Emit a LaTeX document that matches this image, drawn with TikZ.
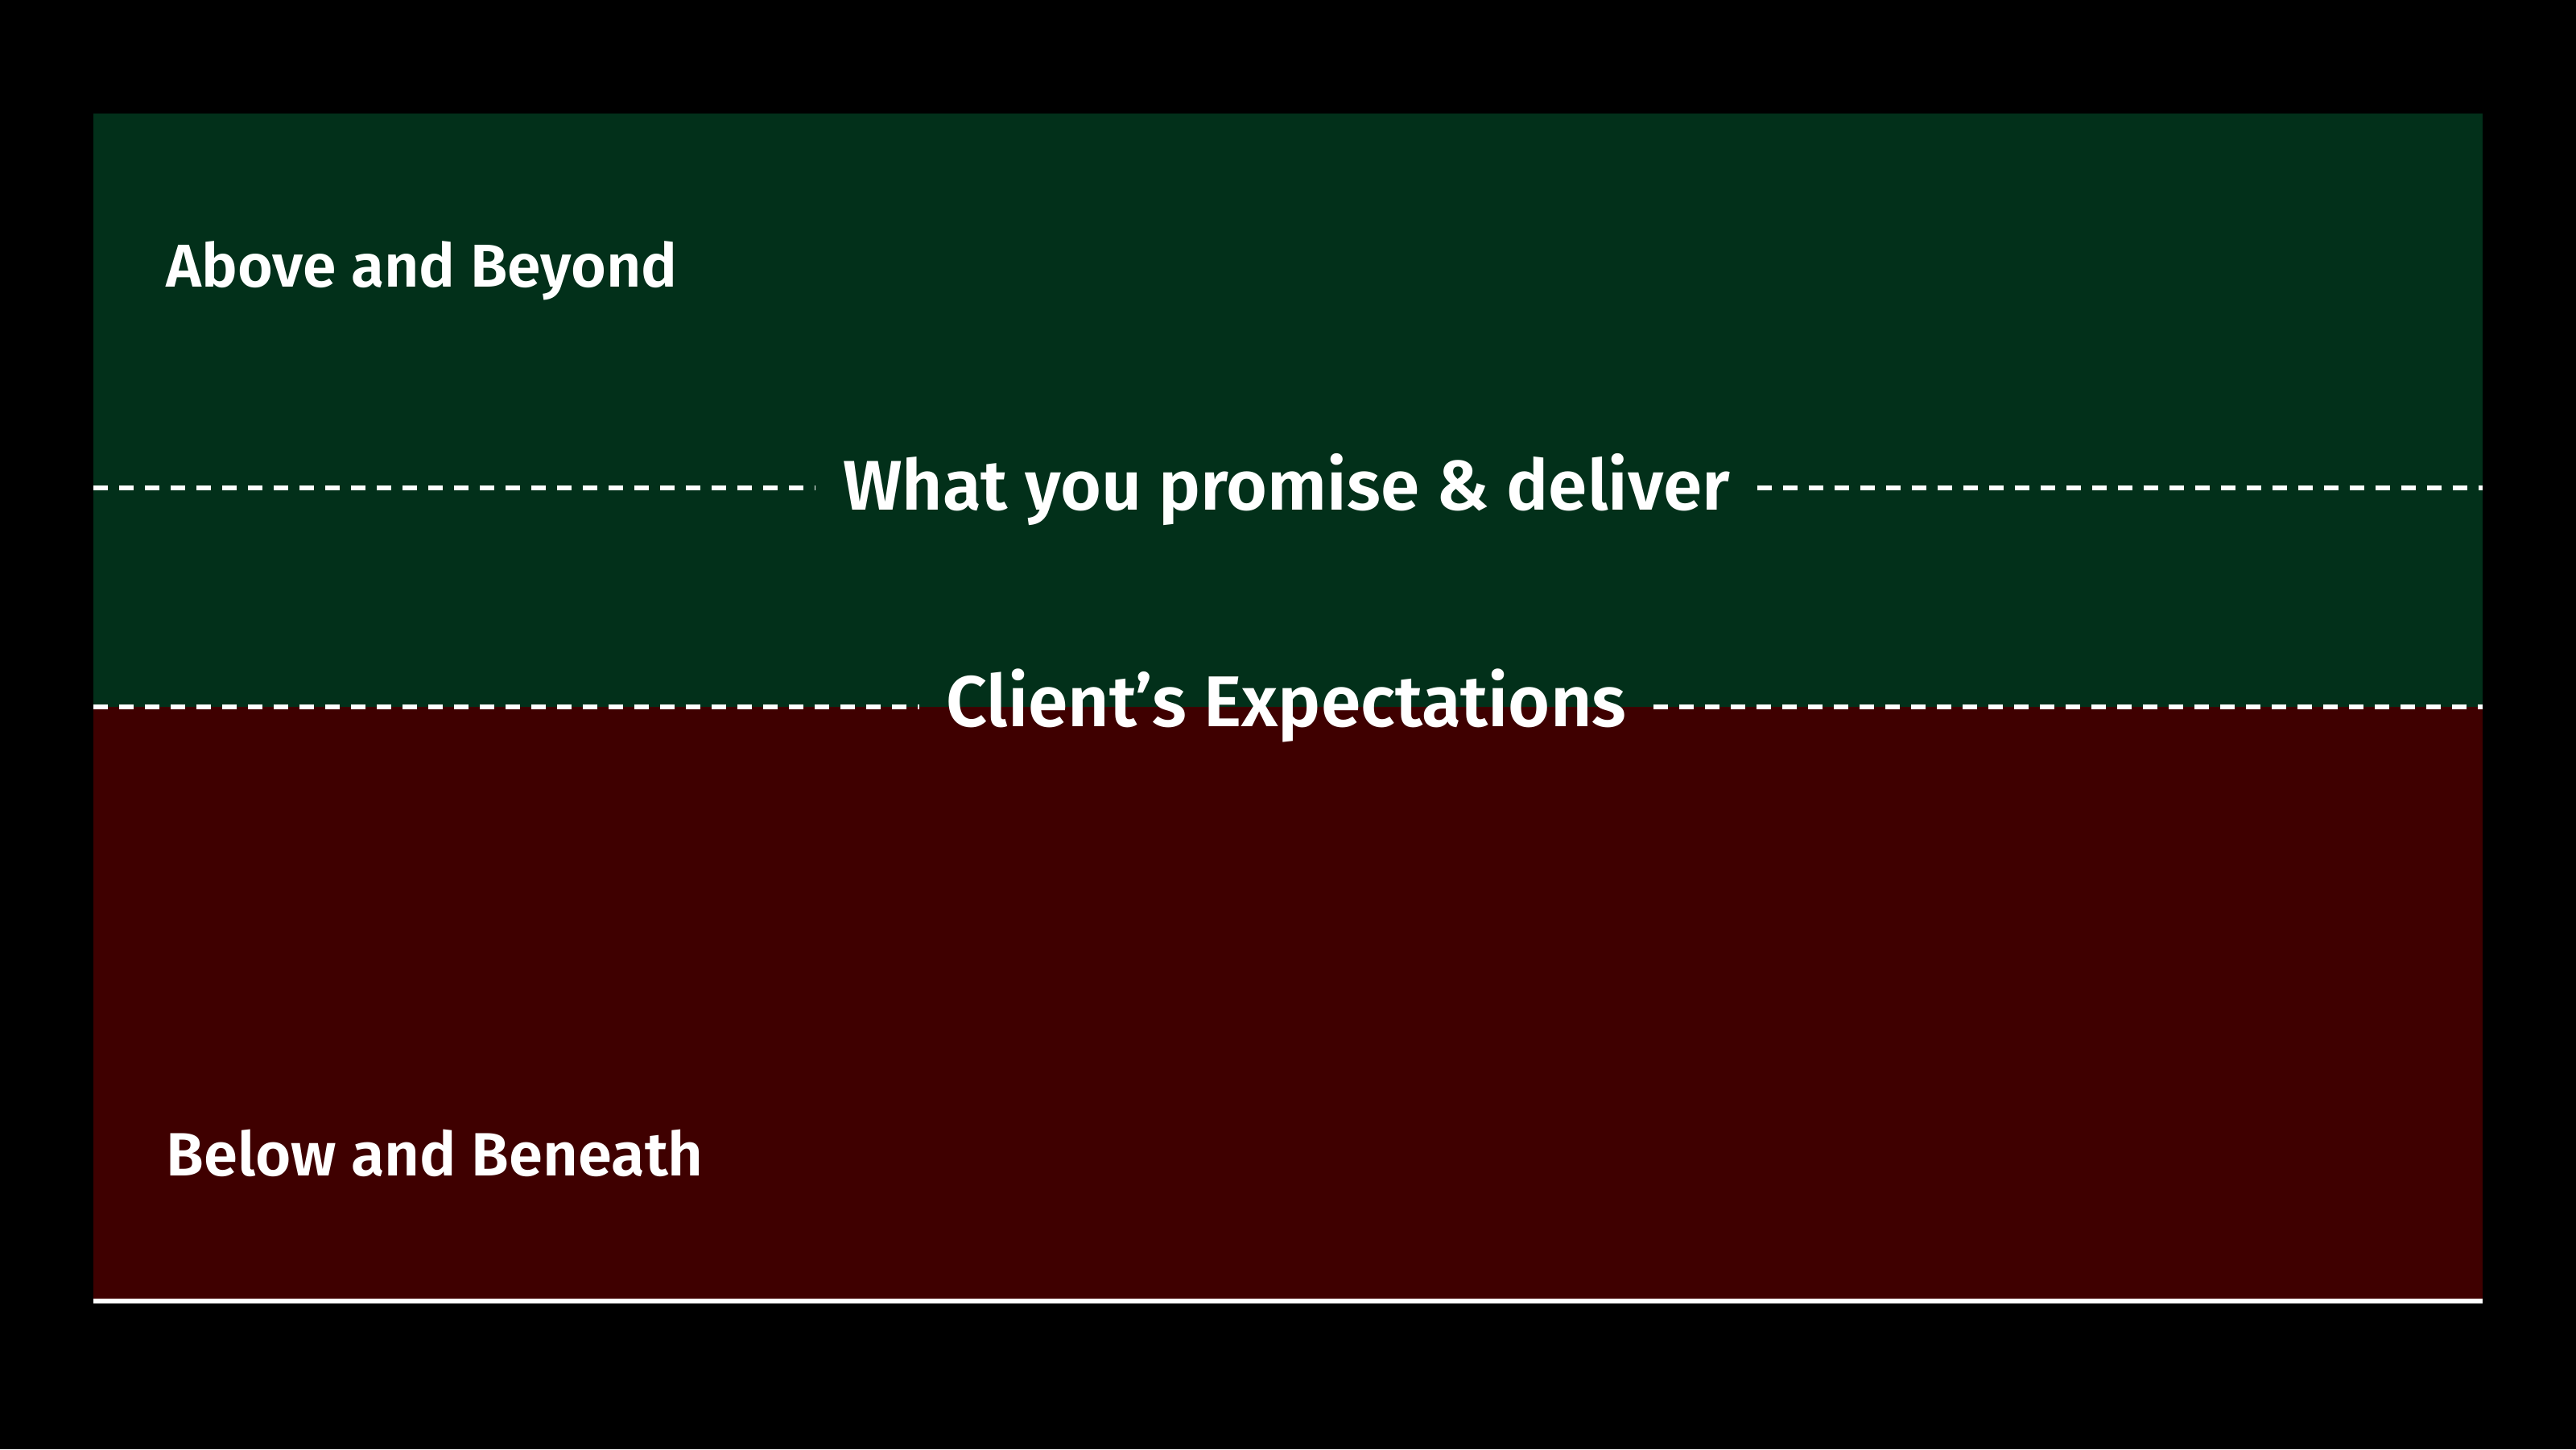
\documentclass[tikz,border=0pt]{standalone}
\usepackage{fontspec}
\usepackage{graphicx}
\setmainfont{Fira Sans SemiBold}
\definecolor{gtop}{HTML}{02301A}
\definecolor{rbot}{HTML}{3F0000}
\begin{document}
\begin{tikzpicture}[
  lbl/.style={text=white,font=\fontsize{24}{28}\selectfont,inner sep=0pt},
  mid/.style={text=white,font=\fontsize{28}{32}\selectfont,inner sep=0pt},
  dl/.style={draw=white,line width=1.6pt,dash pattern=on 0.18cm off 0.14cm}]
\fill[black] (0,0) rectangle (32,-18);
\useasboundingbox (0,0) rectangle (32,-18);
\fill[gtop] (1.16,-1.41) rectangle (30.84,-8.78);
\fill[rbot] (1.16,-8.78) rectangle (30.84,-16.16);
\draw[white,line width=1.6pt] (1.16,-16.16) -- (30.84,-16.16);
\node[lbl,anchor=west] (above) at (2.06,-3.36) {\resizebox{6.35cm}{!}{Above and Beyond}};
\node[lbl,anchor=west] (below) at (2.06,-14.32) {\resizebox{6.67cm}{!}{Below and Beneath}};
\node[mid] (prom) at (15.98,-6.08) {\resizebox{11.02cm}{!}{What you promise \& deliver}};
\node[mid] (exp) at (15.98,-8.76) {\resizebox{8.45cm}{!}{Client’s Expectations}};
\coordinate (pl) at (1.16,-6.06); \coordinate (pr) at (30.84,-6.06);
\coordinate (el) at (1.16,-8.78); \coordinate (er) at (30.84,-8.78);
\draw[dl] (pl) -- ([xshift=-0.33cm]prom.west |- pl);
\draw[dl] ([xshift=0.33cm]prom.east |- pr) -- (pr);
\draw[dl] (el) -- ([xshift=-0.33cm]exp.west |- el);
\draw[dl] ([xshift=0.33cm]exp.east |- er) -- (er);
\end{tikzpicture}
\end{document}
